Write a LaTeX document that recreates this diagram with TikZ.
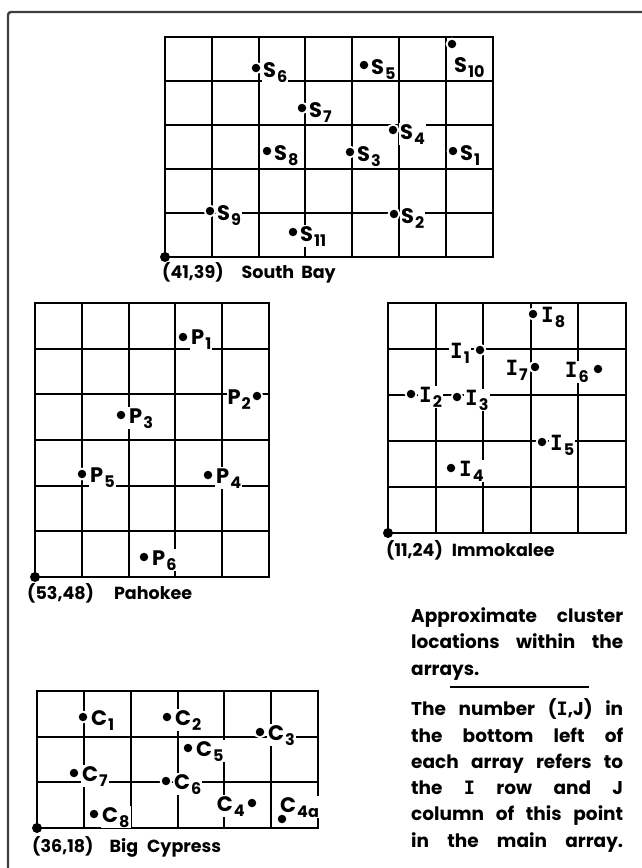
\documentclass[tikz,border=0pt]{standalone}
\usepackage{fontspec}
\setmainfont{Poppins}
\newfontfamily\monof{DejaVu Sans Mono}
\newcommand\Ii{{\monof\bfseries I}}
\newcommand\sbs[2]{#1\hspace{1pt}\raisebox{-5pt}{\fontsize{16}{16}\selectfont #2}}
\begin{document}
\begin{tikzpicture}[x=1pt,y=-1pt,
  gridline/.style={line width=2.2pt},
  framel/.style={line width=2.4pt, black!75, rounded corners=3pt},
  lab/.style={fill=white, inner sep=1pt, font=\fontsize{21}{21}\selectfont\bfseries, anchor=base west},
  labl/.style={lab, anchor=base east},
  glab/.style={inner sep=0pt, font=\fontsize{17.5}{17.5}\selectfont\bfseries, anchor=base west},
  txt/.style={inner sep=0pt, font=\fontsize{18.5}{18.5}\selectfont\bfseries, anchor=base west},
  pt/.style={circle, fill=black, inner sep=0pt, minimum size=8.5pt, preaction={draw=white, line width=4pt}},
  org/.style={circle, fill=black, inner sep=0pt, minimum size=10pt}]
\useasboundingbox (0,0) rectangle (642,868);
\fill[white] (0,0) rectangle (642,868);
\draw[framel] (644,12) -- (8,12) -- (8,870);

% ---------- grids ----------
% South Bay: 7 x 5
\draw[gridline] (165,37) rectangle (493,257);
\foreach \x in {212,259,305,352,399,446} \draw[gridline] (\x,37) -- (\x,257);
\foreach \y in {81,125,169,213} \draw[gridline] (165,\y) -- (493,\y);
% Pahokee: 5 x 6
\draw[gridline] (35,303) rectangle (269,577);
\foreach \x in {82,129,175,222} \draw[gridline] (\x,303) -- (\x,577);
\foreach \y in {349,394,440,486,531} \draw[gridline] (35,\y) -- (269,\y);
% Immokalee: 5 x 5
\draw[gridline] (388,303) rectangle (626,533);
\foreach \x in {436,483,531,578} \draw[gridline] (\x,303) -- (\x,533);
\foreach \y in {349,395,441,487} \draw[gridline] (388,\y) -- (626,\y);
% Big Cypress: 6 x 3
\draw[gridline] (37,691) rectangle (318,828);
\foreach \x in {84,131,178,224,271} \draw[gridline] (\x,691) -- (\x,828);
\foreach \y in {737,782} \draw[gridline] (37,\y) -- (318,\y);

% ---------- array labels ----------
\node[glab] (sbl) at (162,278) {(41,39)\hspace{18pt}South\hspace{7pt}Bay};
\node[glab] (pal) at (27,599) {(53,48)\hspace{20pt}Pahokee};
\node[glab] (iml) at (386,556) {(11,24)\hspace{9pt}Immokalee};
\node[glab] (bcl) at (32,852) {(36,18)\hspace{16pt}Big\hspace{9pt}Cypress};

% ---------- South Bay points ----------
\node[lab] (s6l) at (262,77) {\sbs{S}{6}};
\node[lab] (s5l) at (370,74) {\sbs{S}{5}};
\node[lab] (s10l) at (453,72) {\sbs{S}{10}};
\node[lab] (s7l) at (308,117) {\sbs{S}{7}};
\node[lab] (s4l) at (399,139) {\sbs{S}{4}};
\node[lab] (s8l) at (273,160) {\sbs{S}{8}};
\node[lab] (s3l) at (356,161) {\sbs{S}{3}};
\node[lab] (s1l) at (459,160) {\sbs{S}{1}};
\node[lab] (s9l) at (216,220) {\sbs{S}{9}};
\node[lab] (s2l) at (400,223) {\sbs{S}{2}};
\node[lab] (s11l) at (299,241) {\sbs{S}{11}};
\node[pt] (s6) at (256,68) {};
\node[pt] (s5) at (364,65) {};
\node[pt] (s10) at (452,44) {};
\node[pt] (s7) at (302,108) {};
\node[pt] (s4) at (393,130) {};
\node[pt] (s8) at (267,151) {};
\node[pt] (s3) at (350,152) {};
\node[pt] (s1) at (453,151) {};
\node[pt] (s9) at (210,211) {};
\node[pt] (s2) at (394,214) {};
\node[pt] (s11) at (293,232) {};
\node[org] (sbo) at (165,257) {};

% ---------- Pahokee points ----------
\node[lab] (p1l) at (190,344) {\sbs{P}{1}};
\node[labl] (p2l) at (252,404) {\sbs{P}{2}};
\node[lab] (p3l) at (128,423) {\sbs{P}{3}};
\node[lab] (p5l) at (89,482) {\sbs{P}{5}};
\node[lab] (p4l) at (215,483) {\sbs{P}{4}};
\node[lab] (p6l) at (151,565) {\sbs{P}{6}};
\node[pt] (p1) at (183,337) {};
\node[pt] (p2) at (257,396) {};
\node[pt] (p3) at (121,415) {};
\node[pt] (p5) at (82,474) {};
\node[pt] (p4) at (208,475) {};
\node[pt] (p6) at (144,557) {};
\node[org] (pao) at (35,577) {};

% ---------- Immokalee points ----------
\node[lab] (i8l) at (540,322) {\sbs{\Ii}{8}};
\node[labl] (i1l) at (471,358) {\sbs{\Ii}{1}};
\node[labl] (i7l) at (529,375) {\sbs{\Ii}{7}};
\node[labl] (i6l) at (590,377) {\sbs{\Ii}{6}};
\node[lab] (i2l) at (418,402) {\sbs{\Ii}{2}};
\node[lab] (i3l) at (464,405) {\sbs{\Ii}{3}};
\node[lab] (i5l) at (549,450) {\sbs{\Ii}{5}};
\node[lab] (i4l) at (458,476) {\sbs{\Ii}{4}};
\node[pt] (i8) at (533,314) {};
\node[pt] (i1) at (480,350) {};
\node[pt] (i7) at (535,367) {};
\node[pt] (i6) at (598,369) {};
\node[pt] (i2) at (411,394) {};
\node[pt] (i3) at (457,397) {};
\node[pt] (i5) at (542,442) {};
\node[pt] (i4) at (451,468) {};
\node[org] (imo) at (388,533) {};

% ---------- Big Cypress points ----------
\node[lab] (c1l) at (90,725) {\sbs{C}{1}};
\node[lab] (c2l) at (174,725) {\sbs{C}{2}};
\node[lab] (c3l) at (267,740) {\sbs{C}{3}};
\node[lab] (c5l) at (195,756) {\sbs{C}{5}};
\node[lab] (c7l) at (81,781) {\sbs{C}{7}};
\node[lab] (c6l) at (173,789) {\sbs{C}{6}};
\node[labl] (c4l) at (246,811) {\sbs{C}{4}};
\node[lab] (c4al) at (279,812) {\sbs{C}{4a}};
\node[lab] (c8l) at (101,822) {\sbs{C}{8}};
\node[pt] (c1) at (83,717) {};
\node[pt] (c2) at (167,717) {};
\node[pt] (c3) at (260,732) {};
\node[pt] (c5) at (188,748) {};
\node[pt] (c7) at (74,773) {};
\node[pt] (c6) at (166,781) {};
\node[pt] (c4) at (252,803) {};
\node[pt] (c4a) at (282,819) {};
\node[pt] (c8) at (94,814) {};
\node[org] (bco) at (37,828) {};

% ---------- text block ----------
\node[txt] (t1) at (411,622) {\makebox[212pt][s]{Approximate cluster}};
\node[txt] (t2) at (411,648.5) {\makebox[212pt][s]{locations within the}};
\node[txt] (t3) at (411,675) {arrays.};
\coordinate (r1) at (450,687);
\coordinate (r2) at (589,687);
\draw[line width=2pt] (r1) -- (r2);
\node[txt] (t4) at (411,715) {\makebox[212pt][s]{The number (\Ii,J) in}};
\node[txt] (t5) at (411,742) {\makebox[212pt][s]{the bottom left of}};
\node[txt] (t6) at (411,768) {\makebox[212pt][s]{each array refers to}};
\node[txt] (t7) at (411,794) {\makebox[212pt][s]{the \Ii{} row and J}};
\node[txt] (t8) at (411,820) {\makebox[212pt][s]{column of this point}};
\node[txt] (t9) at (411,847) {\makebox[212pt][s]{in the main array.}};
\end{tikzpicture}
\end{document}
